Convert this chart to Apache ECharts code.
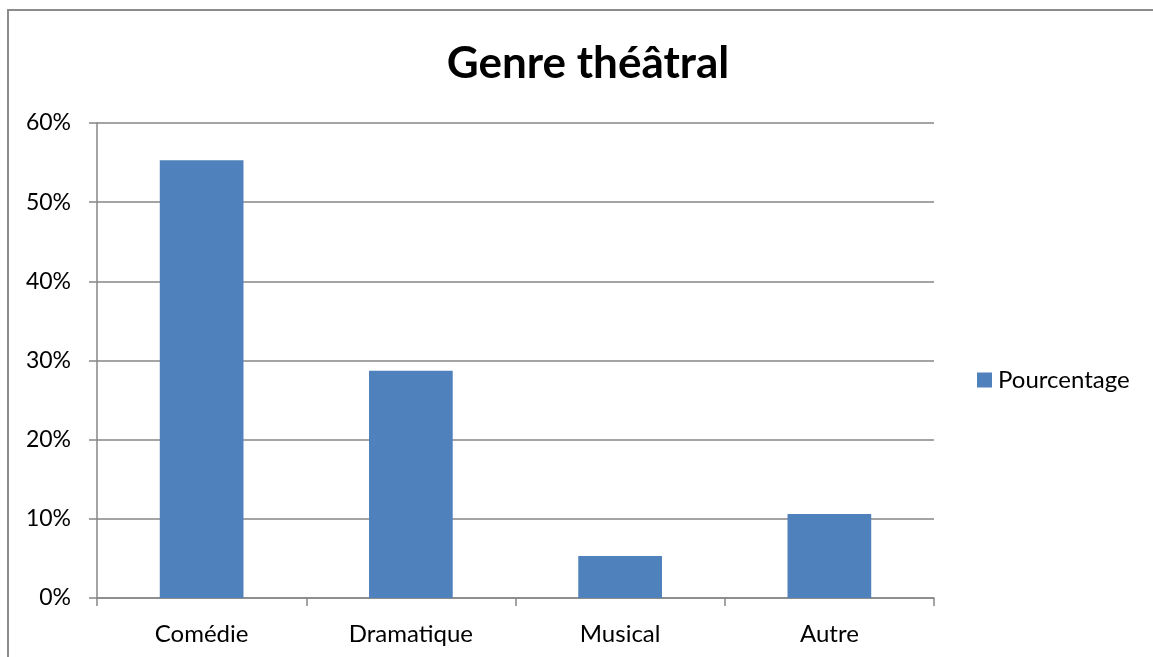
<!DOCTYPE html>
<html>
<head>
    <meta charset="utf-8">
    <title>Genre théâtral</title>
    <script src="https://cdn.jsdelivr.net/npm/echarts@6/dist/echarts.min.js"></script>
    <style>
        html,body{
            height: 100%;
            margin: 0;
            padding: 0;
            background: #fff;
        }
    </style>
</head>
<body>
    <div id="main" style="width: 1153px;height:657px;"></div>
    <script type="text/javascript">
    // données
    var categories = ['Comédie', 'Dramatique', 'Musical', 'Autre'];
    var pourcentage = [55.3, 28.7, 5.3, 10.6];
    var seriesName = 'Pourcentage';

    var font = 'Lato, "Open Sans", sans-serif';
    var myChart = echarts.init(document.getElementById('main'));

    var option = {
        animation: false,
        textStyle: { fontFamily: font },
        title: {
            text: 'Genre théâtral',
            left: 583,
            textAlign: 'center',
            top: 37,
            textStyle: { fontSize: 44, fontWeight: 'bold', color: '#000', fontFamily: font }
        },
        legend: {
            data: [seriesName],
            orient: 'vertical',
            left: 977,
            top: 368,
            padding: 0,
            itemWidth: 15,
            itemHeight: 15,
            itemGap: 6,
            icon: 'rect',
            textStyle: { fontSize: 24, color: '#000', fontFamily: font, padding: [0, 0, 0, 1] }
        },
        graphic: [{
            type: 'rect',
            shape: { x: 8, y: 10, width: 1160, height: 660 },
            style: { fill: 'none', stroke: '#8c8c8c', lineWidth: 2 },
            silent: true
        }],
        grid: {
            left: 97,
            right: 219,
            top: 123,
            bottom: 59
        },
        xAxis: {
            type: 'category',
            data: categories,
            axisLine: { lineStyle: { color: '#868686', width: 1.5 } },
            axisTick: { show: true, length: 8, alignWithLabel: false, lineStyle: { color: '#868686', width: 1.5 } },
            axisLabel: { fontSize: 24, color: '#000', margin: 24, fontFamily: font }
        },
        yAxis: {
            type: 'value',
            min: 0,
            max: 60,
            interval: 10,
            axisLine: { show: true, lineStyle: { color: '#868686', width: 1.5 } },
            axisTick: { show: true, length: 8, lineStyle: { color: '#868686', width: 1.5 } },
            splitLine: { show: true, lineStyle: { color: '#868686', width: 1.5 } },
            axisLabel: {
                fontSize: 23,
                color: '#000',
                margin: 26,
                fontFamily: font,
                formatter: function(v){ return v + '%'; }
            }
        },
        series: [{
            name: seriesName,
            type: 'bar',
            data: pourcentage,
            barWidth: '40%',
            itemStyle: { color: '#4f81bd' }
        }]
    };

    myChart.setOption(option);
    </script>
</body>
</html>
